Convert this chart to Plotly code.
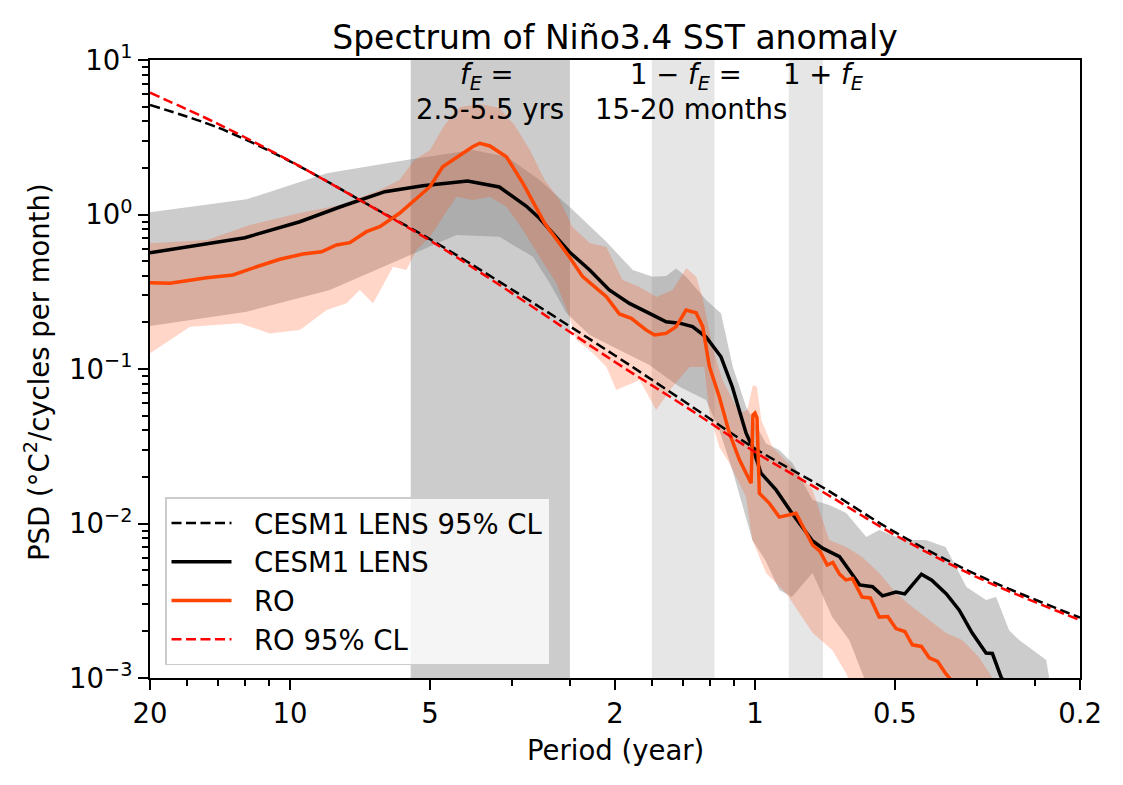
import plotly.graph_objects as go

# ---------------- data (frequency in cycles per year, PSD in degC^2/cycles per month) ----------------
cl_freq = [0.05, 0.07, 0.1, 0.15, 0.2, 0.3, 0.5, 0.7, 1.0, 1.4, 2.0, 3.0, 5.0]
cesm_cl_psd = [5.11, 3.65, 2.21, 1.123, 0.692, 0.327, 0.1223, 0.0625, 0.0306, 0.0171, 0.00879, 0.00466, 0.00246]
ro_cl_psd = [6.14, 3.86, 2.22, 1.12, 0.679, 0.310, 0.111, 0.0585, 0.0290, 0.0160, 0.00843, 0.00450, 0.00237]

cesm_freq = [0.05, 0.08, 0.105, 0.128, 0.16, 0.193, 0.241, 0.282, 0.322, 0.344, 0.399, 0.441, 0.486, 0.537,
             0.593, 0.644, 0.688, 0.734, 0.785, 0.845, 0.894, 0.957, 0.987, 1.03, 1.11, 1.20, 1.33, 1.40,
             1.52, 1.68, 1.79, 1.88, 2.01, 2.10, 2.28, 2.40, 2.58, 2.75, 2.93, 3.14, 3.24, 3.38, 3.52]
cesm_psd = [0.566, 0.708, 0.898, 1.118, 1.405, 1.536, 1.647, 1.507, 1.135, 0.945, 0.572, 0.437, 0.325, 0.266,
            0.229, 0.202, 0.198, 0.188, 0.161, 0.120, 0.0765, 0.0384, 0.0314, 0.0212, 0.0165, 0.0117, 0.0077, 0.0069,
            0.0061, 0.0040, 0.0039, 0.0034, 0.0036, 0.0035, 0.0047, 0.0043, 0.0035, 0.00275, 0.00196, 0.00145,
            0.00144, 0.00102, 0.00084]

ro_freq = [0.05, 0.0552, 0.0662, 0.0754, 0.0848, 0.0951, 0.1066, 0.1169, 0.1259, 0.1345, 0.146, 0.156, 0.172,
           0.187, 0.200, 0.213, 0.232, 0.247, 0.256, 0.269, 0.292, 0.317, 0.353, 0.399, 0.426, 0.479, 0.511,
           0.542, 0.583, 0.608, 0.644, 0.677, 0.711, 0.747, 0.772, 0.798, 0.838, 0.881, 0.926, 0.981, 0.990,
           1.000, 1.010, 1.022, 1.074, 1.128, 1.225, 1.33, 1.38, 1.43, 1.47, 1.52, 1.569, 1.62, 1.70, 1.77,
           1.85, 1.93, 2.01, 2.10, 2.18, 2.28, 2.37, 2.47, 2.57, 2.64, 2.75]
ro_psd = [0.362, 0.359, 0.390, 0.406, 0.459, 0.513, 0.555, 0.574, 0.635, 0.657, 0.774, 0.834, 1.018, 1.273,
          1.513, 2.039, 2.427, 2.747, 2.89, 2.776, 2.366, 1.592, 0.877, 0.531, 0.396, 0.294, 0.227, 0.213,
          0.179, 0.166, 0.170, 0.188, 0.241, 0.231, 0.188, 0.1035, 0.0662, 0.0384, 0.0258, 0.0182, 0.0504,
          0.0519, 0.0482, 0.0157, 0.0135, 0.0110, 0.01164, 0.00726, 0.0066, 0.00539, 0.00560, 0.00470,
          0.00431, 0.00440, 0.00334, 0.00330, 0.00248, 0.00250, 0.00209, 0.00200, 0.00164, 0.00160, 0.00135,
          0.00128, 0.00107, 0.00097, 0.00084]

cesm_hi_freq = [0.05, 0.0807, 0.120, 0.178, 0.247, 0.292, 0.344, 0.406, 0.479, 0.546, 0.603, 0.644, 0.677,
                0.711, 0.785, 0.845, 0.896, 0.957, 1.056, 1.128, 1.205, 1.33, 1.444, 1.571, 1.735, 1.85, 2.04,
                2.18, 2.33, 2.57, 2.85, 3.14, 3.30, 3.52, 3.70, 4.23, 4.30, 4.5]
cesm_hi_psd = [1.033, 1.254, 1.848, 2.253, 2.615, 2.366, 1.672, 1.069, 0.667, 0.437, 0.396, 0.400, 0.448,
               0.396, 0.2797, 0.2293, 0.1035, 0.0570, 0.0330, 0.0299, 0.0245, 0.0142, 0.01318, 0.0117,
               0.00818, 0.00908, 0.00806, 0.00782, 0.00782, 0.00705, 0.00388, 0.0032, 0.00334, 0.00204,
               0.00176, 0.00131, 0.00097, 0.00072]
cesm_lo_freq = [0.05, 0.0807, 0.1218, 0.178, 0.228, 0.282, 0.333, 0.362, 0.393, 0.441, 0.511, 0.593, 0.688,
                0.785, 0.838, 0.894, 0.987, 1.052, 1.128, 1.20, 1.33, 1.466, 1.595, 1.70, 1.76]
cesm_lo_psd = [0.190, 0.2349, 0.3246, 0.533, 0.737, 0.718, 0.533, 0.3586, 0.2304, 0.166, 0.1327, 0.1062,
               0.0768, 0.063, 0.0403, 0.0222, 0.00782, 0.0058, 0.00371, 0.00334, 0.00478, 0.00248, 0.00176,
               0.001077, 0.00084]

ro_hi_freq = [0.05, 0.0663, 0.082, 0.105, 0.128, 0.156, 0.172, 0.185, 0.2, 0.215, 0.232, 0.256, 0.282, 0.304,
              0.328, 0.353, 0.38, 0.405, 0.441, 0.479, 0.519, 0.565, 0.614, 0.665, 0.712, 0.748, 0.771, 0.81,
              0.851, 0.926, 0.963, 0.987, 0.995, 1.01, 1.032, 1.09, 1.20, 1.33, 1.444, 1.571, 1.70, 1.85, 2.01,
              2.18, 2.37, 2.57, 2.79, 3.03, 3.19, 3.35]
ro_hi_psd = [0.651, 0.684, 0.855, 1.023, 1.152, 1.44, 1.672, 2.253, 2.615, 3.796, 4.965, 5.19, 4.89, 3.796,
             2.615, 1.672, 1.241, 0.83, 0.654, 0.616, 0.377, 0.339, 0.292, 0.3246, 0.4505, 0.394, 0.292,
             0.1388, 0.0849, 0.0519, 0.0543, 0.0765, 0.0788, 0.0765, 0.0468, 0.0313, 0.0232, 0.01647, 0.00782,
             0.00705, 0.00607, 0.00478, 0.00355, 0.00288, 0.00237, 0.00196, 0.00176, 0.001367, 0.001077, 0.00084]
ro_lo_freq = [0.05, 0.061, 0.078, 0.0905, 0.105, 0.12, 0.1323, 0.1413, 0.1509, 0.1666, 0.178, 0.187, 0.2,
              0.228, 0.247, 0.269, 0.292, 0.317, 0.344, 0.374, 0.399, 0.413, 0.441, 0.479, 0.503, 0.565, 0.613,
              0.665, 0.723, 0.778, 0.798, 0.838, 0.881, 0.957, 0.987, 1.056, 1.166, 1.33, 1.466, 1.569, 1.63]
ro_lo_psd = [0.1264, 0.1879, 0.1976, 0.170, 0.179, 0.241, 0.266, 0.3246, 0.266, 0.459, 0.437, 0.589, 0.718,
             1.304, 1.241, 1.304, 1.123, 0.794, 0.533, 0.3586, 0.218, 0.154, 0.1327, 0.1035, 0.0731, 0.0849,
             0.0543, 0.0768, 0.103, 0.103, 0.0519, 0.0313, 0.0245, 0.01484, 0.00782, 0.00478, 0.00355, 0.00196,
             0.00152, 0.001077, 0.00084]

# ENSO band: f_E between 1/5.5 and 1/2.5 cycles per year
fe_period_yr = [5.5, 2.5]

# ticks
x_tick_freq = [0.05, 0.1, 0.2, 0.5, 1, 2, 5]
x_tick_text = ["20", "10", "5", "2", "1", "0.5", "0.2"]
x_minor_freq = [0.06, 0.07, 0.08, 0.09, 0.3, 0.4, 0.6, 0.7, 0.8, 0.9, 3, 4]
y_tick_vals = [1e-3, 1e-2, 1e-1, 1, 10]
y_tick_text = ["10<sup>\u22123</sup>", "10<sup>\u22122</sup>", "10<sup>\u22121</sup>", "10<sup>0</sup>", "10<sup>1</sup>"]
y_minor_vals = [m * 10.0 ** e for e in (-3, -2, -1, 0) for m in range(2, 10)]

FONT = "DejaVu Sans"
FS = 27.5
GAP = "\u00a0\u00a0"  # extra room between legend handle and label

fig = go.Figure()

# bands
fe_lo, fe_hi = 1 / fe_period_yr[0], 1 / fe_period_yr[1]
bands = [
    (fe_lo, fe_hi, "rgba(128,128,128,0.4)"),
    (1 - fe_hi, 1 - fe_lo, "rgba(128,128,128,0.2)"),
    (1 + fe_lo, 1 + fe_hi, "rgba(128,128,128,0.2)"),
]
for x0, x1, col in bands:
    fig.add_shape(type="rect", xref="x", yref="paper", x0=x0, x1=x1, y0=0, y1=1,
                  fillcolor=col, line_width=0, layer="below")

# spread fills
fig.add_trace(go.Scatter(x=cesm_hi_freq + cesm_lo_freq[::-1], y=cesm_hi_psd + cesm_lo_psd[::-1],
                         fill="toself", fillcolor="rgba(128,128,128,0.4)", mode="lines",
                         line=dict(width=0), showlegend=False, hoverinfo="skip"))
fig.add_trace(go.Scatter(x=ro_hi_freq + ro_lo_freq[::-1], y=ro_hi_psd + ro_lo_psd[::-1],
                         fill="toself", fillcolor="rgba(255,69,0,0.22)", mode="lines",
                         line=dict(width=0), showlegend=False, hoverinfo="skip"))

# lines
fig.add_trace(go.Scatter(x=cl_freq, y=cesm_cl_psd, mode="lines", name=GAP + "CESM1 LENS 95% CL",
                         line=dict(color="black", width=2.5, dash="10px,4.5px", shape="spline")))
fig.add_trace(go.Scatter(x=cesm_freq, y=cesm_psd, mode="lines", name=GAP + "CESM1 LENS",
                         line=dict(color="black", width=3.5)))
fig.add_trace(go.Scatter(x=ro_freq, y=ro_psd, mode="lines", name=GAP + "RO",
                         line=dict(color="#ff4500", width=3.5)))
fig.add_trace(go.Scatter(x=cl_freq, y=ro_cl_psd, mode="lines", name=GAP + "RO 95% CL",
                         line=dict(color="red", width=2.5, dash="10px,4.5px", shape="spline")))

L, R, T, B = 150, 43, 60, 107
W, H = 1123, 785
pw, ph = W - L - R, H - T - B


def px(x):
    return (x - L) / pw


def py(y):
    return (H - B - y) / ph


ann_font = dict(family=FONT, size=FS, color="black")
annotations = [
    dict(text="<i>f</i><sub><i>E</i></sub> =", x=px(487), y=py(77)),
    dict(text="2.5-5.5 yrs", x=px(490), y=py(109)),
    dict(text="1 \u2212 <i>f</i><sub><i>E</i></sub> =", x=px(686), y=py(77)),
    dict(text="15-20 months", x=px(691), y=py(109)),
    dict(text="1 + <i>f</i><sub><i>E</i></sub>", x=px(823), y=py(77)),
    dict(text="Period (year)", x=0.5, y=py(750)),
    dict(text="PSD (\u00b0C<sup>2</sup>/cycles per month)", x=px(37), y=py(372), textangle=-90),
]
for a in annotations:
    a.update(xref="paper", yref="paper", showarrow=False, xanchor="center", yanchor="middle",
             font=ann_font)

axis_common = dict(showline=True, linewidth=2, linecolor="black", mirror=True, ticks="outside",
                   ticklen=10, tickwidth=2, tickcolor="black", showgrid=False, zeroline=False,
                   tickfont=dict(family=FONT, size=FS, color="black"))

fig.update_layout(
    width=W, height=H,
    margin=dict(l=L, r=R, t=T, b=B),
    paper_bgcolor="white", plot_bgcolor="white",
    title=dict(text="Spectrum of Ni\u00f1o3.4 SST anomaly", x=0.5, xref="paper", xanchor="center",
               y=1 - 37 / H, yref="container", yanchor="middle",
               font=dict(family=FONT, size=33, color="black")),
    xaxis=dict(type="log", range=[-1.30103, 0.69897], tickmode="array", tickvals=x_tick_freq,
               ticktext=x_tick_text,
               minor=dict(tickmode="array", tickvals=x_minor_freq, ticks="outside", ticklen=6,
                          tickwidth=1.5, tickcolor="black"),
               **axis_common),
    yaxis=dict(type="log", range=[-3, 1], tickmode="array", tickvals=y_tick_vals, ticktext=y_tick_text,
               minor=dict(tickmode="array", tickvals=y_minor_vals, ticks="outside", ticklen=6,
                          tickwidth=1.5, tickcolor="black"),
               **axis_common),
    legend=dict(x=px(165), y=py(665), xanchor="left", yanchor="bottom",
                bgcolor="rgba(255,255,255,0.8)", bordercolor="#cccccc", borderwidth=1.5,
                font=dict(family=FONT, size=FS, color="black"), itemwidth=60, traceorder="normal"),
    annotations=annotations,
    showlegend=True,
)

fig.write_html("out.html")
